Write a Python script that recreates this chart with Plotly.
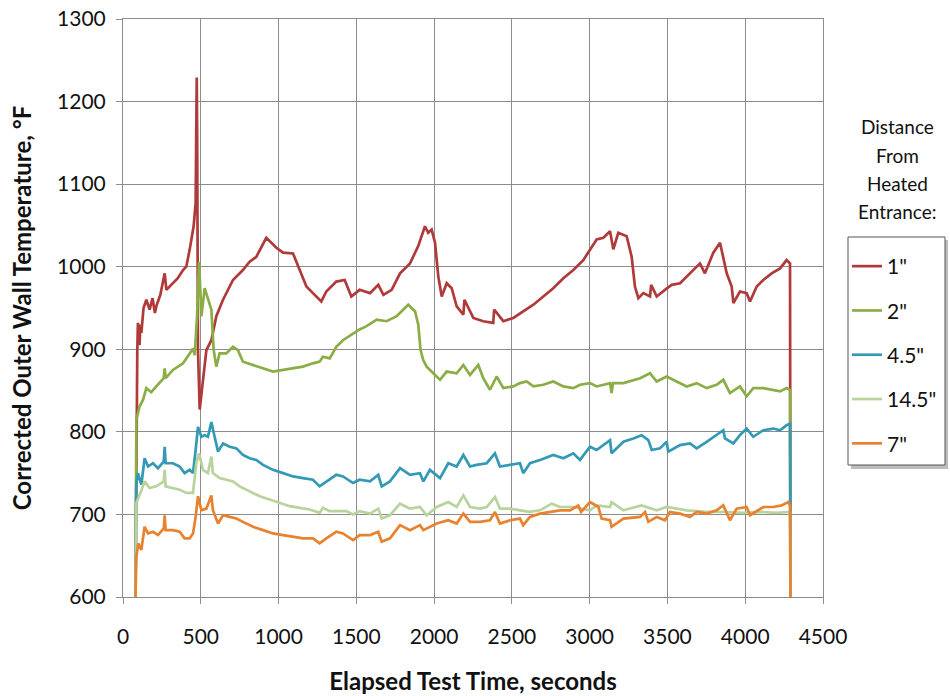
import plotly.graph_objects as go

# ---------------- data ----------------
t_1in = [80, 86, 92, 96, 106, 112, 118, 132, 150, 171, 190, 205, 214, 240, 268, 279, 321, 352, 386, 407, 429,
         454, 467, 474, 477, 482, 493,
         536, 568, 600, 643, 707, 771, 814, 857, 921, 986, 1029, 1093, 1136, 1179, 1221, 1275, 1307, 1371,
         1425, 1468, 1521, 1588, 1641, 1674, 1727, 1781, 1845, 1898, 1941, 1962, 1984, 2006, 2027, 2049,
         2081, 2113, 2145, 2188, 2195, 2252, 2316, 2380, 2386, 2445, 2509, 2573, 2638, 2702, 2766, 2831,
         2895, 2959, 3002, 3045, 3088, 3131, 3152, 3184, 3238, 3270, 3291, 3313, 3345, 3388, 3395, 3431,
         3484, 3527, 3581, 3624, 3666, 3709, 3741, 3795, 3838, 3859, 3881, 3913, 3924, 3966, 4009, 4031,
         4074, 4116, 4170, 4224, 4266, 4288, 4291]
v_1in = [600, 814, 900, 932, 905, 930, 920, 950, 960, 948, 962, 944, 952, 966, 992, 972, 980, 986, 996, 1000, 1021,
         1049, 1077, 1229, 1150, 900, 827,
         899, 911, 940, 960, 984, 996, 1006, 1012, 1035, 1023, 1017, 1016, 996, 976, 968, 958, 970, 982,
         984, 964, 972, 968, 978, 966, 972, 992, 1004, 1025, 1049, 1041, 1045, 1029, 988, 964,
         980, 974, 952, 942, 960, 938, 934, 932, 948, 934, 938, 946, 954, 964, 974, 986,
         996, 1008, 1021, 1033, 1035, 1043, 1021, 1041, 1037, 1012, 976, 962, 968, 964, 978, 964,
         972, 978, 980, 988, 996, 1004, 992, 1017, 1029, 1012, 992, 976, 956, 970, 968, 958,
         976, 984, 992, 998, 1008, 1004, 600]

t_2in = [80, 86, 107, 129, 150, 182, 214, 262, 268, 274, 321, 386, 429, 450, 461, 476, 489, 504, 525, 546,
         568, 583, 600, 621, 664, 707, 739, 771, 836, 900, 964, 1029, 1093, 1157, 1221, 1264, 1285, 1329,
         1371, 1414, 1479, 1521, 1566, 1631, 1695, 1759, 1834, 1877, 1898, 1913, 1930, 1952, 1995, 2038,
         2081, 2145, 2188, 2231, 2284, 2316, 2359, 2402, 2445, 2509, 2552, 2595, 2638, 2702, 2766, 2831,
         2895, 2938, 3002, 3045, 3131, 3141, 3150, 3217, 3324, 3388, 3431, 3495, 3559, 3624, 3688, 3752,
         3816, 3859, 3902, 3966, 4009, 4052, 4116, 4181, 4224, 4266, 4288, 4291]
v_2in = [600, 815, 831, 839, 853, 848, 855, 865, 877, 865, 875, 883, 895, 901, 893, 940, 1006, 940, 974, 960,
         948, 899, 879, 895, 895, 903, 899, 885, 881, 877, 873, 875, 877, 879, 883, 885, 891, 889,
         903, 911, 919, 924, 928, 936, 934, 940, 954, 946, 930, 899, 887, 879, 871, 863,
         873, 871, 881, 869, 881, 865, 851, 867, 853, 855, 859, 861, 855, 857, 861, 855,
         853, 857, 859, 855, 859, 847, 859, 859, 865, 871, 861, 867, 861, 855, 859, 853,
         857, 863, 847, 855, 843, 853, 853, 851, 849, 853, 851, 600]

t_45in = [80, 86, 96, 118, 139, 161, 193, 225, 262, 268, 274, 321, 364, 396, 429, 450, 467, 482, 504, 525,
          546, 568, 589, 611, 643, 686, 729, 771, 814, 857, 900, 964, 1029, 1093, 1157, 1221, 1264, 1307,
          1371, 1414, 1479, 1521, 1588, 1641, 1663, 1716, 1781, 1845, 1909, 1931, 1973, 2038, 2091, 2145,
          2188, 2231, 2273, 2338, 2391, 2423, 2488, 2552, 2573, 2616, 2681, 2766, 2831, 2895, 2938, 3002,
          3045, 3131, 3141, 3217, 3281, 3334, 3377, 3399, 3452, 3495, 3505, 3581, 3645, 3688, 3752, 3816,
          3859, 3870, 3924, 3966, 4009, 4052, 4116, 4181, 4224, 4266, 4288, 4291]
v_45in = [600, 738, 750, 736, 768, 758, 762, 756, 764, 782, 762, 762, 758, 750, 754, 750, 778, 806, 794, 796,
          794, 812, 794, 776, 786, 782, 780, 772, 768, 766, 760, 754, 750, 746, 744, 742, 734, 740,
          748, 746, 738, 742, 740, 748, 734, 740, 756, 748, 750, 740, 754, 744, 762, 758,
          772, 758, 760, 762, 774, 758, 760, 762, 750, 762, 766, 772, 768, 774, 766, 782,
          778, 790, 774, 788, 792, 796, 790, 778, 780, 788, 776, 784, 786, 780, 788, 796,
          802, 792, 786, 796, 804, 794, 802, 804, 802, 808, 810, 600]

t_145in = [80, 86, 118, 139, 171, 214, 262, 268, 274, 321, 364, 407, 450, 471, 489, 514, 546, 568, 578, 621,
           664, 707, 750, 814, 879, 943, 1007, 1071, 1136, 1200, 1264, 1285, 1329, 1371, 1436, 1479, 1521,
           1588, 1641, 1663, 1716, 1781, 1845, 1909, 1952, 2017, 2091, 2145, 2188, 2231, 2295, 2338, 2391,
           2423, 2488, 2552, 2616, 2681, 2756, 2809, 2895, 3002, 3045, 3131, 3141, 3217, 3334, 3431, 3495,
           3624, 3752, 3860, 3980, 4100, 4200, 4288, 4291]
v_145in = [600, 714, 729, 740, 732, 734, 740, 754, 734, 732, 730, 726, 726, 762, 774, 754, 750, 770, 750, 744,
           742, 740, 734, 728, 722, 718, 714, 710, 708, 706, 702, 708, 704, 704, 704, 700, 704,
           701, 707, 695, 699, 713, 707, 709, 699, 709, 715, 709, 723, 709, 707, 709, 721,
           707, 707, 705, 703, 705, 713, 709, 709, 705, 711, 709, 715, 705, 711, 705, 709,
           705, 703, 703, 702, 703, 702, 703, 600]

t_7in = [80, 86, 98, 118, 139, 161, 193, 225, 262, 268, 274, 321, 364, 396, 429, 450, 467, 482, 504, 536,
         568, 578, 611, 643, 686, 729, 771, 836, 900, 964, 1029, 1093, 1157, 1221, 1264, 1307, 1371, 1414,
         1479, 1521, 1588, 1641, 1663, 1716, 1781, 1845, 1909, 1931, 2017, 2091, 2145, 2188, 2231, 2295,
         2359, 2391, 2423, 2488, 2552, 2573, 2616, 2681, 2745, 2809, 2874, 2927, 2945, 3002, 3056, 3077,
         3131, 3141, 3217, 3324, 3356, 3377, 3431, 3484, 3516, 3581, 3645, 3688, 3752, 3816, 3859, 3902,
         3945, 4009, 4031, 4116, 4181, 4234, 4277, 4288, 4291]
v_7in = [600, 649, 665, 657, 685, 677, 679, 675, 683, 699, 681, 681, 679, 671, 671, 677, 697, 722, 705, 707,
         723, 705, 689, 699, 697, 695, 691, 685, 681, 677, 675, 673, 671, 671, 665, 671, 679, 677,
         669, 675, 675, 679, 667, 671, 687, 681, 687, 681, 689, 693, 689, 701, 691, 691,
         693, 703, 689, 693, 695, 687, 697, 701, 703, 705, 705, 711, 703, 715, 709, 695,
         693, 685, 695, 697, 703, 691, 697, 693, 703, 701, 697, 703, 701, 705, 711, 693,
         707, 709, 699, 709, 709, 711, 715, 711, 600]

series_names = ['1"', '2"', '4.5"', '14.5"', '7"']
series_t = [t_1in, t_2in, t_45in, t_145in, t_7in]
series_v = [v_1in, v_2in, v_45in, v_145in, v_7in]
series_colors = ["#B03A3A", "#8AAD45", "#3399B5", "#B8D39C", "#E8822F"]

legend_title_lines = ["Distance", "From", "Heated", "Entrance:"]

x_ticks = [0, 500, 1000, 1500, 2000, 2500, 3000, 3500, 4000, 4500]
y_ticks = [600, 700, 800, 900, 1000, 1100, 1200, 1300]

FONT = "Lato, 'Open Sans', 'DejaVu Sans', sans-serif"

# plot-area geometry in screen pixels (figure 950 x 696, page margin removed)
L, R, T, B = 123, 823, 19, 597
W, H = R - L, B - T


def px(x):
    return (x - L) / W


def py(y):
    return (B - y) / H


fig = go.Figure()
for i, (name, tt, vv, col) in enumerate(zip(series_names, series_t, series_v, series_colors)):
    fig.add_trace(go.Scatter(x=tt, y=vv, mode="lines", name=name, legendgroup=f"g{i}",
                             line=dict(color=col, width=2.7)))

annotations = []
for k, line in enumerate(legend_title_lines):
    annotations.append(dict(text=line, xref="paper", yref="paper", x=px(897), y=py(127 + 28 * k),
                            xanchor="center", yanchor="middle", showarrow=False,
                            font=dict(size=19, family=FONT, color="#111111")))

shapes = [
    # legend shadow
    dict(type="rect", xref="paper", yref="paper", x0=px(851), x1=px(948), y0=py(469), y1=py(240),
         fillcolor="#BDBDBD", line=dict(width=0), layer="below"),
    # legend box
    dict(type="rect", xref="paper", yref="paper", x0=px(848), x1=px(945), y0=py(465), y1=py(237),
         fillcolor="white", line=dict(color="#555555", width=1), layer="below"),
]

fig.update_layout(
    width=950, height=696,
    margin=dict(l=L, r=950 - R, t=T, b=696 - B, autoexpand=False),
    paper_bgcolor="white", plot_bgcolor="white",
    font=dict(family=FONT, color="#111111", size=21),
    showlegend=True,
    legend=dict(x=px(847), y=py(246), xanchor="left", yanchor="top",
                borderwidth=0, bgcolor="rgba(0,0,0,0)",
                font=dict(size=21, family=FONT), tracegroupgap=14,
                itemwidth=30),
    annotations=annotations,
    shapes=shapes,
)

fig.update_xaxes(range=[0, 4500], tickvals=x_ticks, showgrid=True, gridcolor="#8C8C8C", gridwidth=1,
                 showline=True, linecolor="#8C8C8C", linewidth=1, mirror=True, automargin=False,
                 ticks="outside", ticklen=6, tickcolor="#8C8C8C", ticklabelstandoff=15,
                 ticklabeloverflow="allow", zeroline=False,
                 title=dict(text="<b>Elapsed Test Time, seconds</b>", font=dict(size=24), standoff=25))
fig.update_yaxes(range=[600, 1300], tickvals=y_ticks, showgrid=True, gridcolor="#8C8C8C", gridwidth=1,
                 showline=True, linecolor="#8C8C8C", linewidth=1, mirror=True, automargin=False,
                 ticks="outside", ticklen=6, tickcolor="#8C8C8C", ticklabelstandoff=6,
                 ticklabeloverflow="allow", zeroline=False,
                 title=dict(text="<b>Corrected Outer Wall Temperature, °F</b>", font=dict(size=24),
                            standoff=18))

fig.write_html("out.html", config={"displayModeBar": False},
               post_script="document.body.style.margin='0';document.body.style.overflow='hidden';")
